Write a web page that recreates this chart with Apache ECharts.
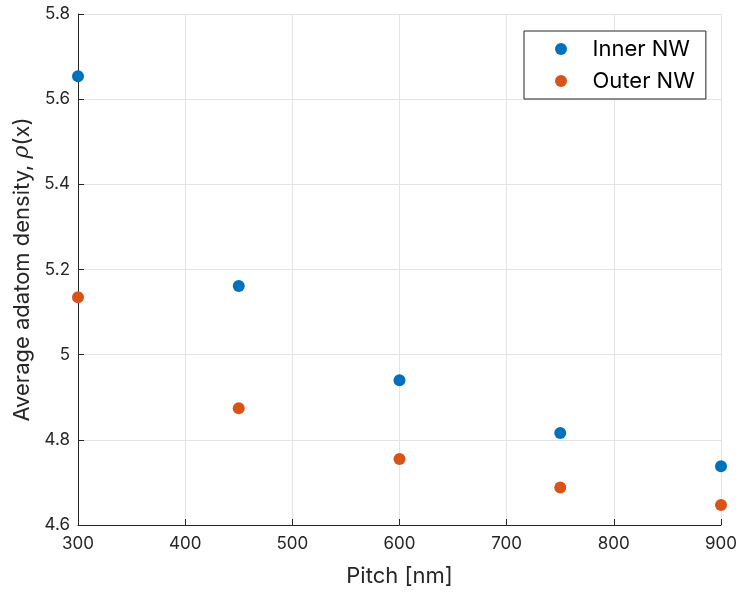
<!DOCTYPE html>
<html>
<head>
<meta charset="utf-8">
<script src="https://cdn.jsdelivr.net/npm/echarts@6/dist/echarts.min.js"></script>
<style>
  html, body { margin: 0; padding: 0; background: #fff; }
  #chart { width: 740px; height: 592px; }
</style>
</head>
<body>
<div id="chart"></div>
<script>
// Pitch values (nm) shared by both series
const pitch = [300, 450, 600, 750, 900];
// Average adatom density per pitch
const innerNW = [5.654, 5.161, 4.940, 4.816, 4.738];
const outerNW = [5.135, 4.874, 4.755, 4.688, 4.647];
const seriesNames = ['Inner NW', 'Outer NW'];

const FONT = 'Inter, "Liberation Sans", Arial, sans-serif';
const TEXT = '#262626';

const chart = echarts.init(document.getElementById('chart'), null, { renderer: 'canvas' });

const pairs = (xs, ys) => xs.map((x, i) => [x, ys[i]]);

chart.setOption({
  animation: false,
  backgroundColor: '#ffffff',
  textStyle: { fontFamily: FONT },
  grid: { left: 78, right: 17, top: 14, bottom: 67, containLabel: false },
  legend: {
    orient: 'vertical',
    left: 524,
    top: 31,
    padding: [7, 11, 7, 31],
    itemWidth: 53,
    itemHeight: 12,
    itemGap: 10,
    backgroundColor: '#ffffff',
    borderColor: TEXT,
    borderWidth: 1,
    borderRadius: 0,
    data: seriesNames,
    textStyle: { fontFamily: FONT, fontSize: 22, color: '#000', lineHeight: 22 }
  },
  xAxis: {
    type: 'value',
    min: 300, max: 900, interval: 100,
    name: 'Pitch [nm]',
    nameLocation: 'middle',
    nameGap: 40,
    nameTextStyle: { fontFamily: FONT, fontSize: 22, color: TEXT },
    axisLine: { show: true, onZero: false, lineStyle: { color: TEXT, width: 1 } },
    axisTick: { show: true, inside: true, length: 6, lineStyle: { color: TEXT } },
    axisLabel: { fontFamily: FONT, fontSize: 17, color: TEXT, margin: 10 },
    splitLine: { show: true, lineStyle: { color: '#e3e3e3', width: 1 } }
  },
  yAxis: {
    type: 'value',
    min: 4.6, max: 5.8, interval: 0.2,
    name: '{n|Average adatom density, }{r|ρ}{n|(x)}',
    nameLocation: 'middle',
    nameGap: 44,
    nameRotate: 90,
    nameTextStyle: {
      fontFamily: FONT, fontSize: 22, color: TEXT,
      rich: {
        n: { fontFamily: FONT, fontSize: 22, color: TEXT },
        r: { fontFamily: '"DejaVu Serif", serif', fontStyle: 'italic', fontSize: 22, color: TEXT }
      }
    },
    axisLine: { show: true, onZero: false, lineStyle: { color: TEXT, width: 1 } },
    axisTick: { show: true, inside: true, length: 6, lineStyle: { color: TEXT } },
    axisLabel: {
      fontFamily: FONT, fontSize: 17, color: TEXT, margin: 8,
      formatter: v => String(Math.round(v * 10) / 10)
    },
    splitLine: { show: true, lineStyle: { color: '#e3e3e3', width: 1 } }
  },
  series: [
    {
      name: seriesNames[0],
      type: 'scatter',
      symbol: 'circle',
      symbolSize: 12,
      itemStyle: { color: '#0072BD', opacity: 1 },
      data: pairs(pitch, innerNW),
      clip: false
    },
    {
      name: seriesNames[1],
      type: 'scatter',
      symbol: 'circle',
      symbolSize: 12,
      itemStyle: { color: '#D95319', opacity: 1 },
      data: pairs(pitch, outerNW),
      clip: false
    }
  ]
});
</script>
</body>
</html>
